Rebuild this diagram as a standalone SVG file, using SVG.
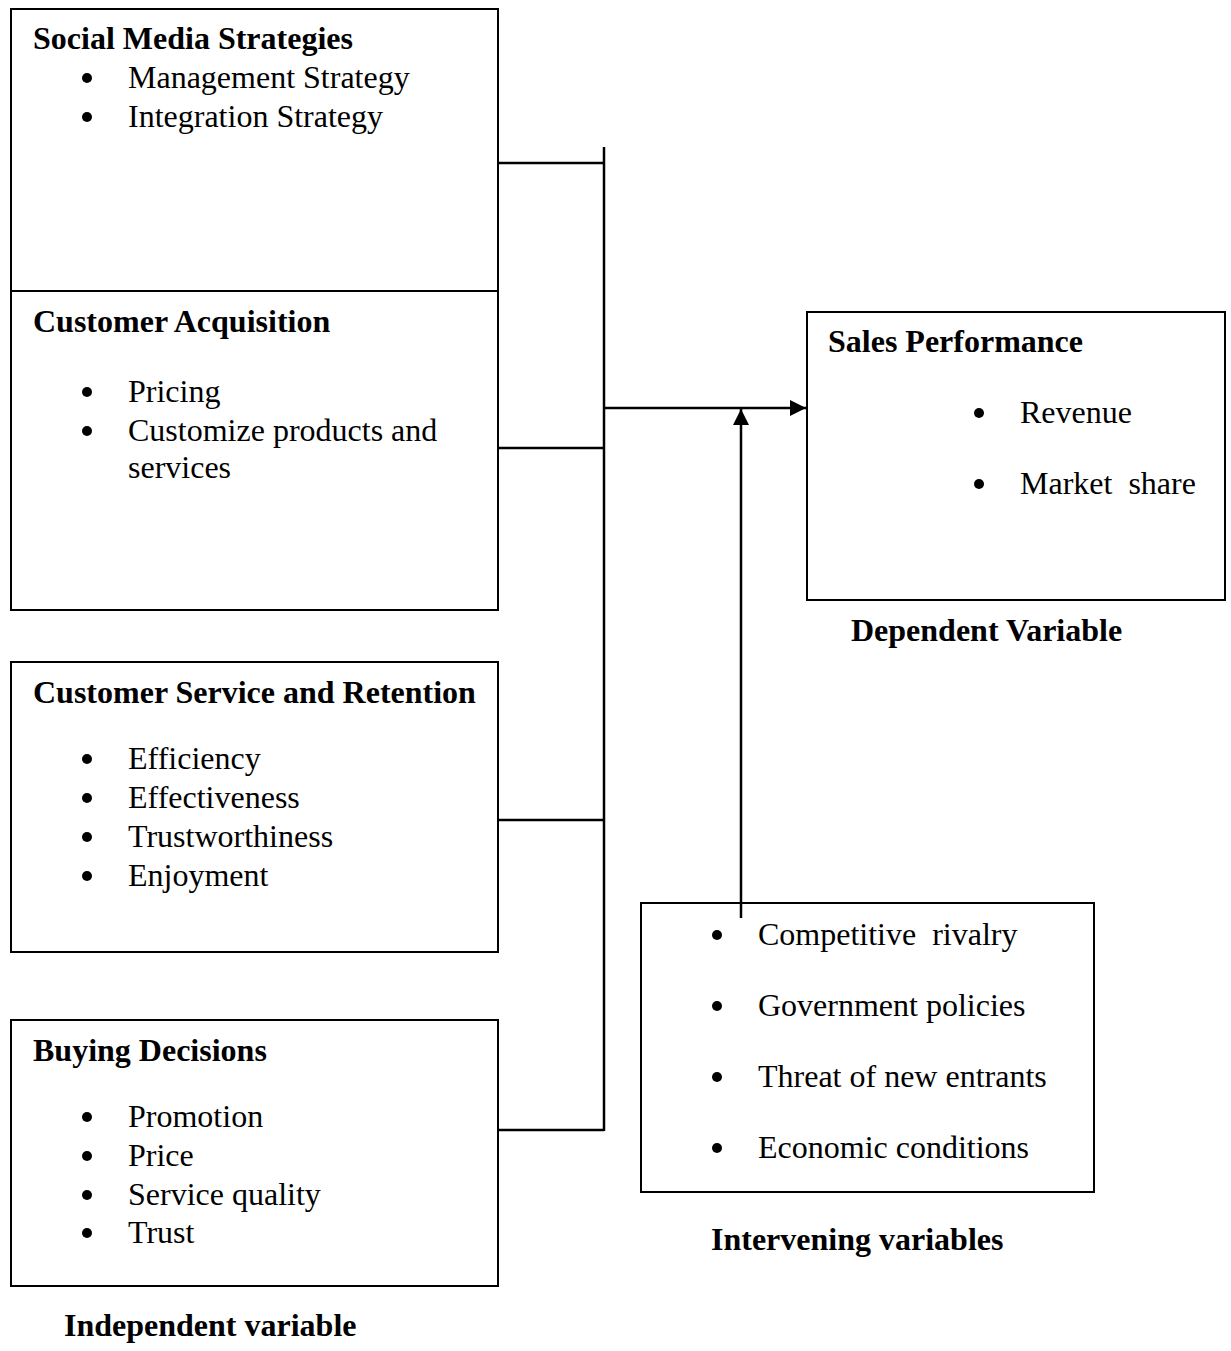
<svg xmlns="http://www.w3.org/2000/svg" width="1231" height="1351" viewBox="0 0 1231 1351">
<style>
.box{fill:none;stroke:#000;stroke-width:2}
.ln{fill:none;stroke:#000;stroke-width:2.5}
text{font-family:"Liberation Serif","Times New Roman",serif;font-size:32px;fill:#000;white-space:pre}
.b{font-weight:bold}
.dot{fill:#000}
</style>
<defs>
<marker id="ah2" markerWidth="16" markerHeight="16" refX="16" refY="8" orient="auto" markerUnits="userSpaceOnUse"><path d="M0,0 L16,8 L0,16 Z" fill="#000"/></marker>
</defs>
<rect width="1231" height="1351" fill="#fff"/>
<g id="connectors">
<line class="ln" x1="498" y1="163" x2="604" y2="163"/>
<line class="ln" x1="498" y1="448" x2="604" y2="448"/>
<line class="ln" x1="498" y1="820" x2="604" y2="820"/>
<line class="ln" x1="498" y1="1130" x2="604" y2="1130"/>
<line class="ln" x1="604" y1="147" x2="604" y2="1131"/>
<line class="ln" x1="604" y1="408" x2="806" y2="408" marker-end="url(#ah2)"/>
<line class="ln" x1="741" y1="918" x2="741" y2="409" marker-end="url(#ah2)"/>
</g>
<g id="social-media">
<rect class="box" x="11" y="9" width="487" height="282"/>
<text class="b" x="33" y="49">Social Media Strategies</text>
<circle class="dot" cx="87" cy="78" r="5"/><text x="128" y="88">Management Strategy</text>
<circle class="dot" cx="87" cy="117" r="5"/><text x="128" y="127">Integration Strategy</text>
</g>
<g id="customer-acquisition">
<rect class="box" x="11" y="291" width="487" height="319"/>
<text class="b" x="33" y="332">Customer Acquisition</text>
<circle class="dot" cx="87" cy="392" r="5"/><text x="128" y="402">Pricing</text>
<circle class="dot" cx="87" cy="431" r="5"/><text x="128" y="441">Customize products and</text>
<text x="128" y="478">services</text>
</g>
<g id="customer-service">
<rect class="box" x="11" y="662" width="487" height="290"/>
<text class="b" x="33" y="703">Customer Service and Retention</text>
<circle class="dot" cx="87" cy="759" r="5"/><text x="128" y="769">Efficiency</text>
<circle class="dot" cx="87" cy="798" r="5"/><text x="128" y="808">Effectiveness</text>
<circle class="dot" cx="87" cy="837" r="5"/><text x="128" y="847">Trustworthiness</text>
<circle class="dot" cx="87" cy="876" r="5"/><text x="128" y="886">Enjoyment</text>
</g>
<g id="buying-decisions">
<rect class="box" x="11" y="1020" width="487" height="266"/>
<text class="b" x="33" y="1061">Buying Decisions</text>
<circle class="dot" cx="87" cy="1117" r="5"/><text x="128" y="1127">Promotion</text>
<circle class="dot" cx="87" cy="1156" r="5"/><text x="128" y="1166">Price</text>
<circle class="dot" cx="87" cy="1195" r="5"/><text x="128" y="1205">Service quality</text>
<circle class="dot" cx="87" cy="1233" r="5"/><text x="128" y="1243">Trust</text>
</g>
<g id="independent-label">
<text class="b" x="64" y="1336">Independent variable</text>
</g>
<g id="sales-performance">
<rect class="box" x="807" y="312" width="418" height="288"/>
<text class="b" x="828" y="352">Sales Performance</text>
<circle class="dot" cx="979" cy="413" r="5"/><text x="1020" y="423">Revenue</text>
<circle class="dot" cx="979" cy="484" r="5"/><text x="1020" y="494">Market  share</text>
</g>
<g id="dependent-label">
<text class="b" x="851" y="641">Dependent Variable</text>
</g>
<g id="intervening">
<rect class="box" x="641" y="903" width="453" height="289"/>
<circle class="dot" cx="717" cy="935" r="5"/><text x="758" y="945">Competitive  rivalry</text>
<circle class="dot" cx="717" cy="1006" r="5"/><text x="758" y="1016">Government policies</text>
<circle class="dot" cx="717" cy="1077" r="5"/><text x="758" y="1087">Threat of new entrants</text>
<circle class="dot" cx="717" cy="1148" r="5"/><text x="758" y="1158">Economic conditions</text>
</g>
<g id="intervening-label">
<text class="b" x="711" y="1250">Intervening variables</text>
</g>
</svg>
